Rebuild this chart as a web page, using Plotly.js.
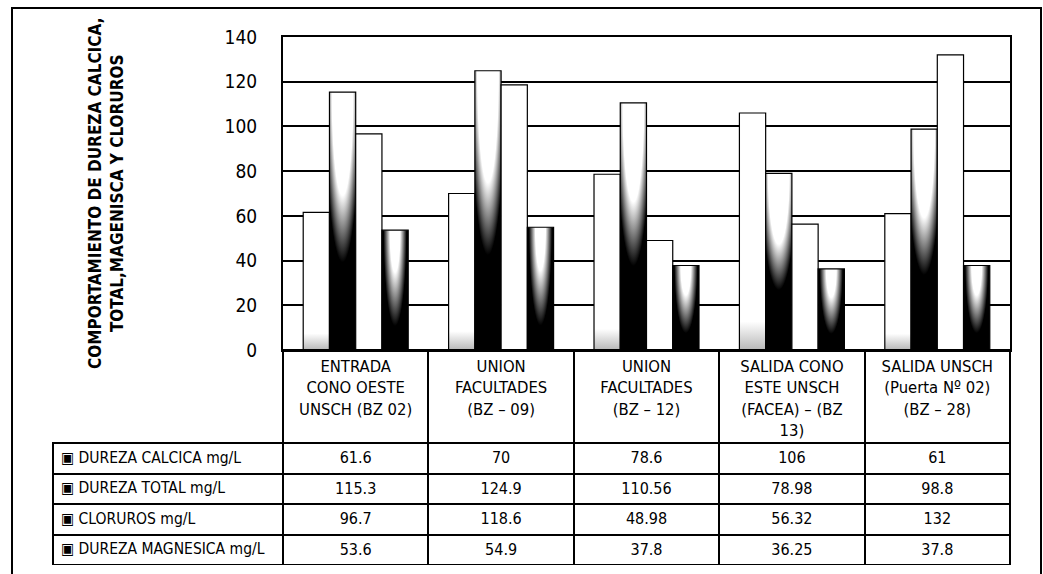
<!DOCTYPE html>
<html>
<head>
<meta charset="utf-8">
<script src="https://cdn.plot.ly/plotly-3.0.1.min.js"></script>
<style>
  html, body { margin: 0; padding: 0; background: #fff; }
  #chart { width: 1043px; height: 574px; }
</style>
</head>
<body>
<div id="chart"></div>
<script>
// ---- DATA ----
const categories = [
  'ENTRADA<br>CONO OESTE<br>UNSCH (BZ 02)',
  'UNION<br>FACULTADES<br>(BZ – 09)',
  'UNION<br>FACULTADES<br>(BZ – 12)',
  'SALIDA CONO<br>ESTE UNSCH<br>(FACEA) – (BZ<br>13)',
  'SALIDA UNSCH<br>(Puerta Nº 02)<br>(BZ – 28)'
];
const seriesNames = ['DUREZA CALCICA mg/L', 'DUREZA TOTAL mg/L', 'CLORUROS mg/L', 'DUREZA MAGNESICA mg/L'];
const durezaCalcica   = [61.6, 70, 78.6, 106, 61];
const durezaTotal     = [115.3, 124.9, 110.56, 78.98, 98.8];
const cloruros        = [96.7, 118.6, 48.98, 56.32, 132];
const durezaMagnesica = [53.6, 54.9, 37.8, 36.25, 37.8];
const yTickVals = [0, 20, 40, 60, 80, 100, 120, 140];
const yTitle = 'COMPORTAMIENTO DE DUREZA CALCICA,<br>TOTAL,MAGENISCA Y CLORUROS';

// ---- LAYOUT HELPERS ----
const W = 1043, H = 574;
const px = v => v / W;
const py = v => 1 - v / H;
const FONT = "'DejaVu Sans Condensed', 'Liberation Sans', sans-serif";

const seriesValues = [durezaCalcica, durezaTotal, cloruros, durezaMagnesica];

const barTraces = seriesValues.map((vals, i) => ({
  type: 'bar',
  name: seriesNames[i],
  x: categories,
  y: vals,
  marker: { color: '#ffffff', line: { color: '#000', width: 1.2 } },
  hoverinfo: 'x+y'
}));

const tableTrace = {
  type: 'table',
  domain: { x: [px(53), px(1010)], y: [py(565), py(350)] },
  columnwidth: [230, 145.4, 145.4, 145.4, 145.4, 145.4],
  header: {
    values: ['', '', '', '', '', ''],
    align: 'center',
    height: 93,
    line: { color: ['rgba(0,0,0,0)', '#000', '#000', '#000', '#000', '#000'], width: 2 },
    fill: { color: 'rgba(0,0,0,0)' },
    font: { family: FONT, size: 16, color: '#000' }
  },
  cells: {
    values: [seriesNames.map(n => '▣ ' + n)]
      .concat(categories.map((c, k) => seriesValues.map(s => String(s[k])))),
    align: ['left', 'center', 'center', 'center', 'center', 'center'],
    height: 30.5,
    line: { color: '#000', width: 2 },
    fill: { color: '#ffffff' },
    font: { family: FONT, size: [15.5, 16, 16, 16, 16, 16], color: '#000' }
  }
};

const layout = {
  width: W, height: H,
  margin: { l: 0, r: 0, t: 0, b: 0 },
  paper_bgcolor: '#fff', plot_bgcolor: '#fff',
  showlegend: false,
  barmode: 'group',
  bargap: 0.278,
  bargroupgap: 0,
  xaxis: {
    domain: [px(283), px(1010)],
    type: 'category',
    showticklabels: true,
    tickfont: { family: FONT, size: 16.5, color: '#000' },
    ticklabelstandoff: 0,
    ticks: '',
    showgrid: false,
    showline: true, linecolor: '#000', linewidth: 2, mirror: true,
    fixedrange: true
  },
  yaxis: {
    domain: [py(350), py(37)],
    range: [0, 140],
    tickvals: yTickVals,
    ticks: '',
    ticklabelstandoff: 20,
    tickfont: { family: FONT, size: 19, color: '#000' },
    showgrid: true, gridcolor: '#000', gridwidth: 2,
    zeroline: false,
    showline: true, linecolor: '#000', linewidth: 2, mirror: true,
    fixedrange: true
  },
  annotations: [{
    xref: 'paper', yref: 'paper',
    x: px(106), y: py(193),
    xanchor: 'center', yanchor: 'middle',
    textangle: -90,
    showarrow: false,
    text: '<b>' + yTitle + '</b>',
    font: { family: FONT, size: 17, color: '#000' }
  }],
  shapes: [{
    type: 'rect', xref: 'paper', yref: 'paper',
    x0: px(12), x1: px(1041), y0: -0.2, y1: py(8),
    line: { color: '#000', width: 2 }, fillcolor: 'rgba(0,0,0,0)', layer: 'below'
  }]
};

function addGradients() {
  const NS = 'http://www.w3.org/2000/svg';
  const defs = document.querySelector('#chart .main-svg defs');
  if (!defs) return;
  function grad(tag, id, attrs, stops) {
    const g = document.createElementNS(NS, tag);
    g.setAttribute('id', id);
    Object.keys(attrs).forEach(k => g.setAttribute(k, attrs[k]));
    stops.forEach(s => {
      const st = document.createElementNS(NS, 'stop');
      st.setAttribute('offset', s[0]);
      st.setAttribute('stop-color', s[1]);
      g.appendChild(st);
    });
    defs.appendChild(g);
  }
  grad('linearGradient', 'gCalcica', { x1: 0, y1: 0, x2: 0, y2: 1 },
       [[0, '#fff'], [0.88, '#fff'], [1, '#b8b8b8']]);
  grad('radialGradient', 'gTotal', { cx: 0.5, cy: 0, r: 1, fx: 0.5, fy: 0 },
       [[0, '#fff'], [0.4, '#fff'], [0.66, '#000'], [1, '#000']]);
  grad('linearGradient', 'gCloruros', { x1: 0, y1: 0, x2: 0, y2: 1 },
       [[0, '#fff'], [1, '#fff']]);
  grad('radialGradient', 'gMagnesica', { cx: 0.5, cy: 0, r: 1, fx: 0.5, fy: 0,
       gradientTransform: 'translate(0.5 0) scale(0.55 1) translate(-0.5 0)' },
       [[0, '#fff'], [0.35, '#fff'], [0.8, '#000'], [1, '#000']]);
  const ids = ['gCalcica', 'gTotal', 'gCloruros', 'gMagnesica'];
  const traces = document.querySelectorAll('#chart .barlayer .trace');
  traces.forEach((t, i) => {
    t.querySelectorAll('path').forEach(p => { p.style.fill = 'url(#' + ids[i] + ')'; });
  });
}

Plotly.newPlot('chart', barTraces.concat([tableTrace]), layout, { displayModeBar: false, staticPlot: true })
  .then(addGradients);
</script>
</body>
</html>
